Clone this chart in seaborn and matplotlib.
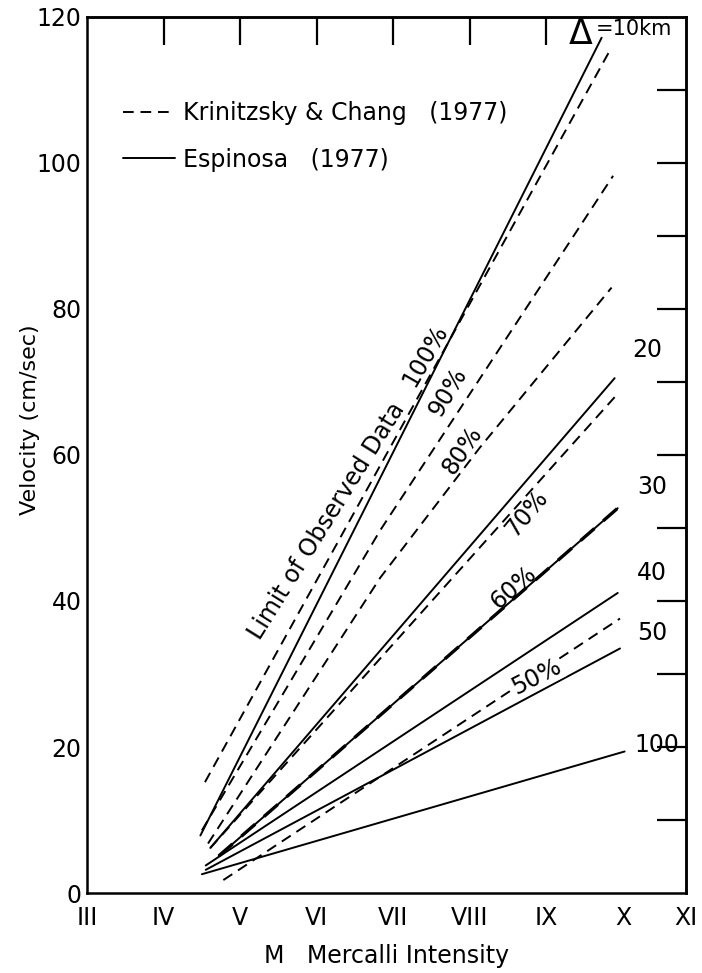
import seaborn as sns
import matplotlib.pyplot as plt
from matplotlib.lines import Line2D

# Espinosa (1977) - solid lines, by distance
esp_labels = ["10", "20", "30", "40", "50", "100"]
esp_x = [[4.48, 9.72], [4.61, 9.89], [4.72, 9.93], [4.55, 9.93], [4.55, 9.96], [4.50, 10.02]]
esp_y = [[7.9, 117.1], [6.2, 70.5], [5.1, 52.7], [3.8, 41.1], [3.2, 33.5], [2.6, 19.4]]

# Krinitzsky & Chang (1977) - dashed lines, by percent
kc_labels = ["100%", "90%", "80%", "70%", "60%", "50%"]
kc_x = [[4.54, 9.83], [4.50, 6.83, 9.87], [4.58, 6.83, 8.13, 9.85], [4.61, 9.89], [4.72, 9.93], [4.78, 9.96]]
kc_y = [[15.2, 115.4], [8.6, 49.7, 98.2], [6.8, 43.2, 61.0, 82.9], [6.2, 67.9], [5.1, 52.7], [1.8, 37.6]]

intensity_ticks = [3, 4, 5, 6, 7, 8, 9, 10, 10.82]
intensity_labels = ["III", "IV", "V", "VI", "VII", "VIII", "IX", "X", "XI"]

sns.set_theme(style="white")
plt.rcParams['font.family'] = ['DejaVu Sans']
for k in ['text.color', 'axes.labelcolor', 'xtick.color', 'ytick.color']:
    plt.rcParams[k] = 'black'

fig = plt.figure(figsize=(7.02, 9.73), dpi=100)
ax = fig.add_axes([0.124, 0.082, 0.853, 0.901])

for xs, ys in zip(esp_x, esp_y):
    sns.lineplot(x=xs, y=ys, ax=ax, color="black", linewidth=1.4, legend=False)

for i, (xs, ys) in enumerate(zip(kc_x, kc_y)):
    lw = 2.4 if kc_labels[i] == "60%" else 1.4
    sns.lineplot(x=xs, y=ys, ax=ax, color="black", linewidth=lw,
                 linestyle=(0, (5.5, 3.5)), legend=False)

ax.set_xlim(3, 10.82)
ax.set_ylim(0, 120)

ax.set_xticks(intensity_ticks)
ax.set_xticklabels(intensity_labels, fontsize=17)
ax.set_yticks(range(0, 121, 20))
ax.set_yticklabels([str(v) for v in range(0, 121, 20)], fontsize=17)
ax.set_yticks(range(10, 120, 20), minor=True)
ax.tick_params(axis="x", direction="in", length=25, width=1.6, pad=9)
ax.tick_params(axis="y", which="both", direction="in", length=20, width=1.6, pad=4)

top = ax.secondary_xaxis("top")
top.set_xticks(range(4, 10))
top.tick_params(direction="in", length=20, width=1.6, labeltop=False)
right = ax.secondary_yaxis("right")
right.set_yticks(range(10, 120, 10))
right.tick_params(direction="in", length=21, width=1.6, labelright=False)

for sp in list(ax.spines.values()) + [top.spines["top"], right.spines["right"]]:
    sp.set_color("black")
    sp.set_linewidth(1.8)

ax.set_xlabel("M   Mercalli Intensity", fontsize=17, labelpad=10)
ax.set_ylabel("Velocity (cm/sec)", fontsize=16)
ax.yaxis.set_label_coords(-0.078, 0.54)

# percent labels along the dashed lines
pct_pos = [(7.41, 73.6, 60), (7.71, 68.6, 59), (7.90, 60.6, 56), (8.74, 52.0, 50), (8.57, 41.9, 41), (8.87, 29.6, 27)]
for lab, (px, py, rot) in zip(kc_labels, pct_pos):
    box = dict(facecolor="white", edgecolor="none", pad=0.5) if lab == "50%" else None
    ax.text(px, py, lab, fontsize=17, rotation=rot, ha="center", va="center",
            rotation_mode="anchor", bbox=box)

ax.text(6.13, 51.0, "Limit of Observed Data", fontsize=17, rotation=58,
        ha="center", va="center", rotation_mode="anchor")

# distance labels
dist_pos = [(10.32, 74.3), (10.38, 55.6), (10.38, 43.8), (10.38, 35.6), (10.44, 20.3)]
for lab, (px, py) in zip(esp_labels[1:], dist_pos):
    ax.text(px, py, lab, fontsize=17, ha="center", va="center")
ax.text(9.44, 117.6, "Δ", fontsize=25, ha="center", va="center")
ax.text(10.14, 118.3, "=10km", fontsize=15, ha="center", va="center")

handles = [Line2D([], [], color="black", linewidth=1.4, linestyle=(0, (5.5, 3.5))),
           Line2D([], [], color="black", linewidth=1.4)]
ax.legend(handles, ["Krinitzsky & Chang   (1977)", "Espinosa   (1977)"], loc="upper left",
          bbox_to_anchor=(0.04, 0.917), frameon=False, fontsize=17, handlelength=2.2,
          handletextpad=0.35, labelspacing=0.95, borderpad=0)

fig.savefig("out.png", dpi=100, facecolor="white")
